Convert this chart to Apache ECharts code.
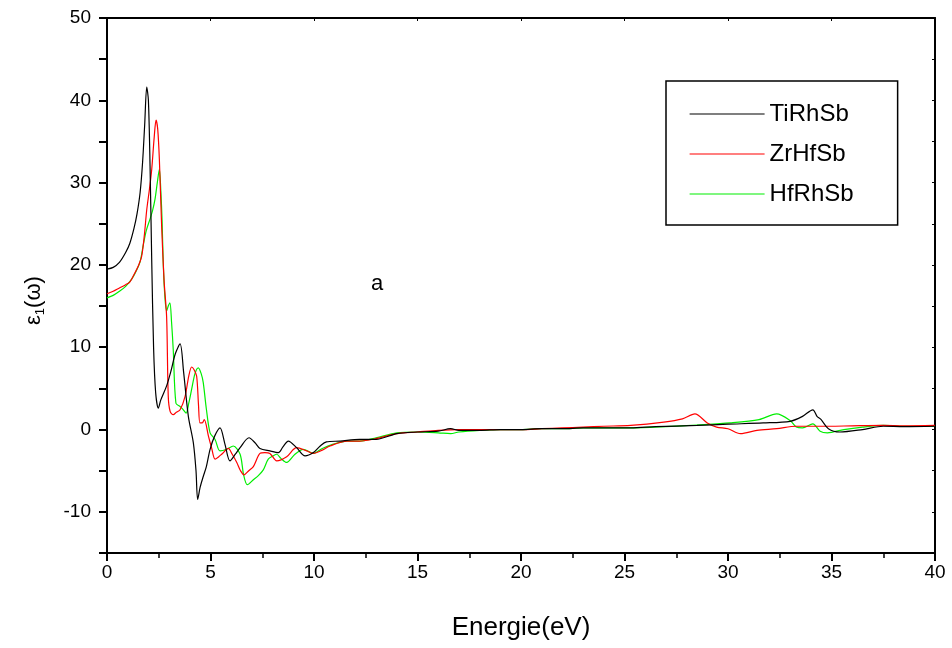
<!DOCTYPE html>
<html>
<head>
<meta charset="utf-8">
<script src="https://cdn.jsdelivr.net/npm/echarts@6/dist/echarts.min.js"></script>
<style>
  html, body { margin: 0; padding: 0; background: #fff; }
  #chart { width: 952px; height: 648px; }
</style>
</head>
<body>
<div id="chart"></div>
<script>
// Real part of the dielectric function, eps1(omega), versus photon energy (eV)
const seriesNames = ['TiRhSb', 'ZrHfSb', 'HfRhSb'];
const seriesColors = ['#000000', '#ff0000', '#00ee00'];

const xTicks = [0, 5, 10, 15, 20, 25, 30, 35, 40];
const yTicks = [-10, 0, 10, 20, 30, 40, 50];

const tiRhSb = [
  [0,19.5],[0.3,19.7],[0.6,20.3],[0.9,21.5],[1.1,22.6],[1.3,24.4],[1.45,26.2],[1.6,28.8],[1.72,32.5],[1.82,37],[1.92,41.6],
  [2.0,40],[2.08,32],[2.16,20.6],[2.25,10],[2.35,4.5],[2.48,2.6],[2.6,3.6],[2.88,5.3],[3.1,7.2],[3.3,9.2],
  [3.53,10.4],[3.7,7],[3.93,1.6],[4.17,-1.6],[4.3,-5],[4.38,-8.5],[4.5,-7],[4.65,-5.7],[4.8,-4.5],[4.98,-2.4],
  [5.2,-0.8],[5.46,0.2],[5.7,-1.8],[5.94,-3.8],[6.2,-3.0],[6.43,-2.2],[6.86,-1.0],[7.15,-1.6],[7.39,-2.3],
  [7.87,-2.6],[8.28,-2.8],[8.5,-2.1],[8.76,-1.4],[9.16,-2.2],[9.57,-3.2],[9.97,-2.8],[10.3,-2.0],[10.6,-1.5],
  [11.26,-1.4],[12.2,-1.2],[13,-1.2],[14,-0.5],[15,-0.3],[16,-0.2],[16.6,0.1],[17,-0.1],[18,-0.1],[19,0],
  [20,0],[21,0.1],[22,0.1],[23,0.2],[24,0.2],[25.3,0.2],[26.5,0.35],[28.5,0.5],[30,0.65],[31.7,0.8],
  [33.0,1.0],[33.6,1.6],[34.1,2.4],[34.3,1.6],[34.5,1.2],[34.85,0.1],[35.4,-0.3],[36.5,0],[37.5,0.4],
  [38.5,0.35],[40,0.4]
];

const zrHfSb = [
  [0,16.5],[0.3,16.8],[0.6,17.2],[0.9,17.6],[1.1,17.9],[1.3,18.8],[1.5,19.8],[1.67,21],[1.8,23.5],[1.92,26.7],
  [2.05,29.2],[2.16,31.6],[2.28,35.5],[2.37,37.6],[2.45,36.5],[2.53,32.8],[2.64,24.7],[2.76,18],[2.88,13.7],
  [2.96,4],[3.05,2.2],[3.2,1.8],[3.35,2.1],[3.53,2.4],[3.77,4],[3.95,6.5],[4.09,7.6],[4.2,7.3],[4.33,6.5],
  [4.42,3],[4.49,0.8],[4.6,0.8],[4.7,1.2],[4.9,-0.8],[5.05,-2.2],[5.22,-3.6],[5.4,-3.3],[5.54,-3.0],[5.86,-2.3],
  [6.05,-3.0],[6.27,-4.0],[6.45,-5.0],[6.62,-5.5],[6.85,-5.0],[7.07,-4.5],[7.39,-2.9],[7.63,-2.8],[7.87,-2.9],
  [8.2,-3.8],[8.68,-3.3],[9.16,-2.2],[9.65,-2.6],[9.97,-2.9],[10.4,-2.5],[10.77,-2.0],[11.58,-1.4],[12.2,-1.4],
  [13,-1.1],[14,-0.5],[15,-0.3],[16,-0.1],[17,0],[18,0],[19,0],[20,0],[21,0.1],[22,0.2],[23,0.3],[24,0.4],
  [25.3,0.5],[26.9,0.9],[27.8,1.3],[28.4,1.9],[29.0,0.8],[29.45,0.3],[30.0,0.1],[30.6,-0.5],[31.4,-0.1],
  [32.35,0.1],[33.3,0.4],[34.9,0.4],[36,0.45],[37.5,0.5],[38.5,0.45],[40,0.5]
];

const hfRhSb = [
  [0,16],[0.3,16.3],[0.6,16.8],[0.9,17.4],[1.2,18.3],[1.4,19.2],[1.6,20.4],[1.75,22.4],[1.9,24.2],[2.08,25.6],
  [2.2,26.6],[2.32,28],[2.43,30],[2.53,31.6],[2.6,29],[2.66,25.5],[2.72,20],[2.8,16],[2.88,14.4],[2.96,15],
  [3.04,15.4],[3.12,13],[3.2,9.7],[3.33,3.2],[3.53,2.8],[3.65,2.5],[3.82,2.0],[3.95,3.2],[4.09,4.9],[4.25,6.8],
  [4.41,7.5],[4.55,6.8],[4.65,5.7],[4.8,2.5],[4.98,-0.4],[5.22,-1.2],[5.46,-2.6],[5.78,-2.4],[6.1,-2.0],
  [6.43,-3.0],[6.6,-5.5],[6.78,-6.7],[7.07,-6.1],[7.31,-5.6],[7.55,-4.9],[7.79,-3.6],[8.03,-3.2],[8.2,-3.0],
  [8.4,-3.5],[8.68,-4.0],[9.08,-3.0],[9.48,-2.4],[9.97,-2.9],[10.4,-2.3],[10.9,-1.8],[11.6,-1.4],[12.2,-1.4],
  [13,-1.0],[14,-0.4],[15,-0.3],[16,-0.4],[16.6,-0.5],[17,-0.3],[18,-0.1],[19,0],[20,0],[21,0.1],[22,0.1],
  [23,0.2],[24,0.2],[25.3,0.2],[27,0.35],[28.5,0.55],[30.1,0.8],[31.5,1.2],[32.35,1.9],[33.0,1.1],[33.3,0.3],
  [33.6,0.2],[34.1,0.7],[34.45,-0.2],[34.8,-0.4],[35.6,0],[36.5,0.3],[37.5,0.5],[38.5,0.4],[40,0.4]
];

const seriesData = [tiRhSb, zrHfSb, hfRhSb];

const chart = echarts.init(document.getElementById('chart'), null, { renderer: 'canvas' });

const axisFont = 'Liberation Sans, Arial, sans-serif';
const narrowFont = '"Liberation Sans Narrow", "Arial Narrow", "Liberation Sans", sans-serif';

const option = {
  backgroundColor: '#ffffff',
  animation: false,
  grid: { left: 107, right: 17, top: 18, bottom: 95, containLabel: false },
  legend: {
    data: seriesNames,
    orient: 'vertical',
    left: 666,
    top: 81,
    padding: [20, 44, 18, 23],
    itemGap: 14,
    itemWidth: 75,
    itemHeight: 14,
    borderColor: '#000',
    borderWidth: 1.5,
    itemStyle: { opacity: 0 },
    lineStyle: { width: 1.2 },
    textStyle: { fontFamily: axisFont, fontSize: 24, color: '#000', lineHeight: 26 }
  },
  graphic: [
    {
      type: 'text',
      left: 371,
      top: 273,
      style: { text: 'a', font: '22px ' + axisFont, fill: '#000' }
    }
  ],
  xAxis: [
    {
      type: 'value',
      min: 0, max: 40, interval: 5,
      name: 'Energie(eV)',
      nameLocation: 'middle',
      nameGap: 62,
      nameTextStyle: { fontFamily: narrowFont, fontSize: 26, color: '#000' },
      axisLine: { show: true, onZero: false, lineStyle: { color: '#000', width: 2 } },
      axisTick: { show: true, inside: false, length: 8, lineStyle: { color: '#000', width: 2 } },
      minorTick: { show: true, splitNumber: 2, length: 5, lineStyle: { color: '#000', width: 1.5 } },
      splitLine: { show: false },
      axisLabel: {
        fontFamily: narrowFont, fontSize: 19, color: '#000', margin: 10,
        formatter: v => (xTicks.includes(v) ? String(v) : '')
      }
    },
    {
      type: 'value', position: 'top',
      min: 0, max: 40, interval: 5,
      axisLine: { show: true, onZero: false, lineStyle: { color: '#000', width: 2 } },
      axisTick: { show: true, inside: true, length: 3, lineStyle: { color: '#000', width: 1 } },
      axisLabel: { show: false },
      splitLine: { show: false }
    }
  ],
  yAxis: [
    {
      type: 'value',
      min: -15, max: 50, interval: 5,
      name: '{e|ε}{s|1}{e|(ω)}',
      nameLocation: 'middle',
      nameGap: 60,
      nameRotate: 90,
      nameTextStyle: {
        color: '#000',
        padding: [0, 30, 0, 0],
        rich: {
          e: { fontFamily: axisFont, fontSize: 22, color: '#000' },
          s: { fontFamily: axisFont, fontSize: 13, color: '#000', verticalAlign: 'bottom', padding: [14, 0, 0, 0] }
        }
      },
      axisLine: { show: true, onZero: false, lineStyle: { color: '#000', width: 2 } },
      axisTick: {
        show: true, inside: false, length: 8, lineStyle: { color: '#000', width: 2 }
      },
      splitLine: { show: false },
      axisLabel: {
        fontFamily: axisFont, fontSize: 19, color: '#000', margin: 16,
        formatter: v => (yTicks.includes(v) ? String(v) : '')
      }
    },
    {
      type: 'value', position: 'right',
      min: -15, max: 50, interval: 5,
      axisLine: { show: true, onZero: false, lineStyle: { color: '#000', width: 2 } },
      axisTick: { show: true, inside: true, length: 3, lineStyle: { color: '#000', width: 1 } },
      axisLabel: { show: false },
      splitLine: { show: false }
    }
  ],
  series: seriesNames.map((name, i) => ({
    name: name,
    type: 'line',
    xAxisIndex: 0,
    yAxisIndex: 0,
    data: seriesData[i],
    symbol: 'none',
    smooth: 0.3,
    color: seriesColors[i],
    lineStyle: { color: seriesColors[i], width: 1.2 },
    z: 3 - i
  }))
};

chart.setOption(option);
</script>
</body>
</html>
